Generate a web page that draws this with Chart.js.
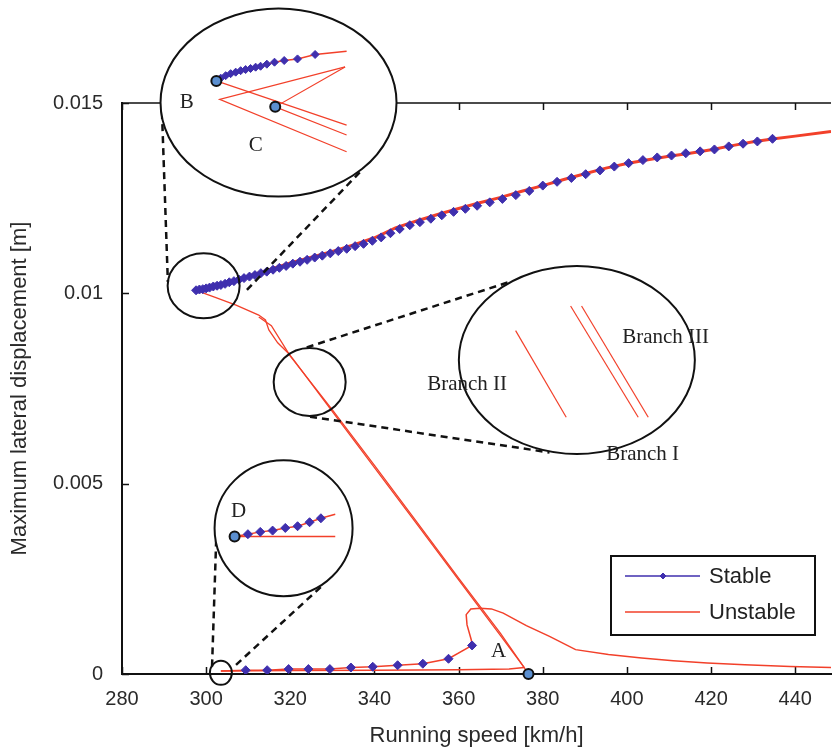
<!DOCTYPE html>
<html>
<head>
<meta charset="utf-8">
<script src="https://cdn.jsdelivr.net/npm/chart.js@4.4.0/dist/chart.umd.min.js"></script>
<style>
  html, body { margin: 0; padding: 0; background: #fff; }
  #wrap { width: 838px; height: 751px; }
</style>
</head>
<body>
<div id="wrap"><canvas id="chart" width="838" height="751"></canvas></div>
<script>
// axis ticks
const xTicks = [280, 300, 320, 340, 360, 380, 400, 420, 440]
const yTicks = [0, 0.005, 0.01, 0.015]

// upper branch (full continuation line, red)
const upperSpeed = [297.6, 300, 305, 310, 315, 320, 325, 330, 335, 340, 345, 350, 355, 360, 365, 370, 375, 380, 385, 390, 395, 400, 405, 410, 415, 420, 425, 430, 435, 440, 448.5]
const upperDisp = [0.01008, 0.01013, 0.01029, 0.01045, 0.01062, 0.0108, 0.01095, 0.0111, 0.01127, 0.01146, 0.01172, 0.0119, 0.01207, 0.01223, 0.01238, 0.01252, 0.01268, 0.01283, 0.01299, 0.01314, 0.01329, 0.01341, 0.01351, 0.0136, 0.01368, 0.01377, 0.01388, 0.01398, 0.01406, 0.01413, 0.01425]

// stable points on the upper branch
const stableUpSpeed = [297.6, 298.4, 299.2, 300.0, 300.8, 301.7, 302.6, 303.5, 304.5, 305.5, 306.6, 307.8, 309.0, 310.3, 311.6, 313.0, 314.4, 315.9, 317.4, 319.0, 320.6, 322.3, 324.0, 325.8, 327.6, 329.5, 331.4, 333.4, 335.4, 337.4, 339.5, 341.6, 343.8, 346.0, 348.4, 350.8, 353.4, 356.0, 358.8, 361.6, 364.4, 367.4, 370.4, 373.6, 376.8, 380.0, 383.4, 386.8, 390.2, 393.6, 397.0, 400.4, 403.8, 407.2, 410.6, 414.0, 417.4, 420.8, 424.2, 427.6, 431.0, 434.6]
const stableUpDisp = [0.01008, 0.0101, 0.01011, 0.01013, 0.01015, 0.01018, 0.0102, 0.01022, 0.01025, 0.01029, 0.01032, 0.01036, 0.0104, 0.01044, 0.01048, 0.01053, 0.01057, 0.01062, 0.01067, 0.01072, 0.01078, 0.01083, 0.01088, 0.01094, 0.01099, 0.01105, 0.01111, 0.01117, 0.01124, 0.0113, 0.01138, 0.01147, 0.01158, 0.01169, 0.01179, 0.01187, 0.01196, 0.01205, 0.01214, 0.01222, 0.0123, 0.01239, 0.01248, 0.01258, 0.01269, 0.01283, 0.01293, 0.01303, 0.01313, 0.01323, 0.01333, 0.01342, 0.0135, 0.01357, 0.01362, 0.01368, 0.01373, 0.01378, 0.01386, 0.01393, 0.01399, 0.01406]

// descending unstable branch (two close lines)
const descSpeed = [297.6, 302, 307.1, 312.5, 314.1, 314.9, 317.0, 319.6, 320.8, 330, 340, 350, 360, 370, 375.6, 376.6]
const descDisp = [0.01008, 0.0099, 0.00969, 0.00943, 0.0093, 0.00904, 0.0087, 0.00842, 0.00825, 0.00689, 0.00542, 0.00395, 0.00247, 0.001, 0.00017, 0.0]
const desc2Speed = [312.5, 315.5, 320, 330, 340, 350, 360, 370, 375.6]
const desc2Disp = [0.00938, 0.00915, 0.00835, 0.00694, 0.00548, 0.004, 0.00252, 0.00106, 0.00017]

// lower branch: stable part, loop and decaying tail
const lowerSpeed = [303.5, 309.4, 314.5, 319.6, 324.3, 329.4, 334.4, 339.6, 345.5, 351.5, 357.6, 363.2, 363.0, 362.0, 361.8, 362.9, 365.1, 367.8, 370.6, 376.1, 381.6, 387.8, 395.6, 403.5, 411, 419.1, 428, 438.8, 448.5]
const lowerDisp = [0.00008, 0.0001, 0.0001, 0.00013, 0.00013, 0.00013, 0.00017, 0.00019, 0.00023, 0.00027, 0.0004, 0.00075, 0.0009, 0.00129, 0.00156, 0.00171, 0.00173, 0.00171, 0.0016, 0.00127, 0.00099, 0.00064, 0.00051, 0.00042, 0.00035, 0.00029, 0.00024, 0.0002, 0.00017]
const stableLowSpeed = [309.4, 314.5, 319.6, 324.3, 329.4, 334.4, 339.6, 345.5, 351.5, 357.6, 363.2]
const stableLowDisp = [0.0001, 0.0001, 0.00013, 0.00013, 0.00013, 0.00017, 0.00019, 0.00023, 0.00027, 0.0004, 0.00075]
const flatSpeed = [303.5, 320, 340, 360, 372, 375.6]
const flatDisp = [0.00008, 0.00009, 0.0001, 0.00011, 0.00013, 0.00017]

// Hopf point A
const hopfSpeed = [376.6]
const hopfDisp = [0]

// zoom circles: centre in data units
const circleSpeed = [317.2, 299.4, 324.6, 388.1, 303.5, 318.4]
const circleDisp = [0.01501, 0.0102, 0.00767, 0.00825, 0.00003, 0.00383]

// dashed connectors: [speed1, disp1, speed2, disp2]
const connectors = [
  [289.5, 0.01476, 290.9, 0.0103],
  [336.5, 0.01318, 309.0, 0.01001],
  [323.9, 0.00858, 372.1, 0.0103],
  [324.7, 0.00676, 381.6, 0.00582],
  [301.4, 0.0002, 302.4, 0.00357],
  [307.1, 0.00024, 327.8, 0.00234]
]

// inset contents, in units of the inset radius
const insetBStable = [[-0.527, -0.231], [-0.49, -0.26], [-0.448, -0.287], [-0.406, -0.308], [-0.363, -0.324], [-0.321, -0.34], [-0.279, -0.352], [-0.237, -0.363], [-0.194, -0.377], [-0.152, -0.387], [-0.099, -0.409], [-0.034, -0.43], [0.048, -0.448], [0.161, -0.465], [0.31, -0.512]]
const insetBTail = [0.577, -0.547]
const insetBCLines = [
  [[-0.527, -0.231], [0.577, 0.239]],
  [[0.564, -0.38], [-0.499, -0.034], [0.577, 0.522]],
  [[0.564, -0.38], [-0.028, 0.045], [0.577, 0.345]]
]
const insetBCPoints = [[-0.527, -0.231], [-0.028, 0.045]]
const insetBranchLines = [
  [[-0.519, -0.312], [-0.09, 0.61]],
  [[-0.053, -0.574], [0.52, 0.61]],
  [[0.04, -0.574], [0.605, 0.61]]
]
const insetDStable = [[-0.517, 0.088], [-0.338, 0.054], [-0.159, 0.035], [0.025, -0.004], [0.203, -0.029], [0.377, -0.088], [0.541, -0.146]]
const insetDTail = [0.749, -0.205]
const insetDFlat = [[-0.71, 0.123], [0.749, 0.123]]
const insetDPoint = [-0.71, 0.123]

const BLUE = "#3f2fae"
const RED = "#f2402a"
const DOT = "#5b8fd0"
const INK = "#222"

const pts = (xs, ys) => xs.map((v, i) => ({ x: v, y: ys[i] }))

const circleStyle = [
  { rx: 118, ry: 94, fill: true },
  { rx: 36, ry: 32.5 },
  { rx: 36, ry: 34 },
  { rx: 118, ry: 94, fill: true },
  { rx: 11, ry: 12 },
  { rx: 69, ry: 68, fill: true }
]

function diamond(ctx, x, y, r) {
  ctx.beginPath()
  ctx.moveTo(x, y - r); ctx.lineTo(x + r, y); ctx.lineTo(x, y + r); ctx.lineTo(x - r, y)
  ctx.closePath()
  ctx.fillStyle = BLUE
  ctx.fill()
  ctx.lineWidth = 1
  ctx.strokeStyle = BLUE
  ctx.stroke()
}

function dot(ctx, x, y) {
  ctx.beginPath()
  ctx.arc(x, y, 5, 0, Math.PI * 2)
  ctx.fillStyle = DOT
  ctx.fill()
  ctx.lineWidth = 2
  ctx.strokeStyle = "#111"
  ctx.stroke()
}

function poly(ctx, list, color, width) {
  ctx.beginPath()
  list.forEach((p, i) => (i ? ctx.lineTo(p[0], p[1]) : ctx.moveTo(p[0], p[1])))
  ctx.strokeStyle = color
  ctx.lineWidth = width
  ctx.stroke()
}

// frame top line and inward tick marks
const frame = {
  id: "frame",
  beforeDatasetsDraw(chart) {
    const { ctx, chartArea: a, scales: { x, y } } = chart
    ctx.save()
    ctx.strokeStyle = "#111"
    ctx.lineWidth = 1.5
    ctx.beginPath()
    ctx.moveTo(a.left, a.top); ctx.lineTo(a.right, a.top)
    xTicks.forEach((v) => {
      const px = Math.round(x.getPixelForValue(v)) + 0.5
      ctx.moveTo(px, a.bottom); ctx.lineTo(px, a.bottom - 7)
      ctx.moveTo(px, a.top); ctx.lineTo(px, a.top + 7)
    })
    yTicks.forEach((v) => {
      const py = Math.round(y.getPixelForValue(v)) + 0.5
      ctx.moveTo(a.left, py); ctx.lineTo(a.left + 7, py)
    })
    ctx.stroke()
    ctx.restore()
  }
}

// zoom circles, connectors, insets, labels and legend
const zoomMarks = {
  id: "zoomMarks",
  afterDatasetsDraw(chart) {
    const { ctx, scales: { x, y } } = chart
    const P = (v, d) => [x.getPixelForValue(v), y.getPixelForValue(d)]
    const circles = circleSpeed.map((v, i) => {
      const c = P(v, circleDisp[i])
      return { cx: c[0], cy: c[1], ...circleStyle[i] }
    })
    const at = (c, p) => [c.cx + p[0] * c.rx, c.cy + p[1] * c.ry]
    ctx.save()

    ctx.setLineDash([7, 5])
    connectors.forEach((c) => poly(ctx, [P(c[0], c[1]), P(c[2], c[3])], "#111", 2.5))
    ctx.setLineDash([])

    circles.forEach((c) => {
      ctx.beginPath()
      ctx.ellipse(c.cx, c.cy, c.rx, c.ry, 0, 0, Math.PI * 2)
      if (c.fill) { ctx.fillStyle = "#fff"; ctx.fill() }
      ctx.strokeStyle = "#111"
      ctx.lineWidth = 2
      ctx.stroke()
    })

    // inset B / C
    const bc = circles[0]
    insetBCLines.forEach((l) => poly(ctx, l.map((p) => at(bc, p)), RED, 1.2))
    poly(ctx, insetBStable.concat([insetBTail]).map((p) => at(bc, p)), RED, 1.5)
    insetBStable.forEach((p) => { const q = at(bc, p); diamond(ctx, q[0], q[1], 4) })
    insetBCPoints.forEach((p) => { const q = at(bc, p); dot(ctx, q[0], q[1]) })

    // inset branches
    const br = circles[3]
    insetBranchLines.forEach((l) => poly(ctx, l.map((p) => at(br, p)), RED, 1.2))

    // inset D
    const dd = circles[5]
    poly(ctx, insetDFlat.map((p) => at(dd, p)), RED, 1.5)
    poly(ctx, [insetDPoint].concat(insetDStable, [insetDTail]).map((p) => at(dd, p)), RED, 1.5)
    insetDStable.forEach((p) => { const q = at(dd, p); diamond(ctx, q[0], q[1], 4.5) })
    const dp = at(dd, insetDPoint)
    dot(ctx, dp[0], dp[1])

    // serif labels
    ctx.fillStyle = INK
    ctx.font = '21px "Liberation Serif", serif'
    ctx.textAlign = "center"
    ctx.textBaseline = "middle"
    const label = (t, p) => ctx.fillText(t, p[0], p[1])
    label("B", at(bc, [-0.778, -0.005]))
    label("C", at(bc, [-0.194, 0.451]))
    label("Branch II", at(br, [-0.93, 0.266]))
    label("Branch III", at(br, [0.752, -0.234]))
    label("Branch I", at(br, [0.557, 1.011]))
    label("D", at(dd, [-0.652, -0.253]))
    label("A", P(369.5, 0.0006))
    ctx.restore()
  },
  afterDraw(chart) {
    const { ctx } = chart
    const ds = chart.data.datasets.filter((d) => d.legend).sort((a, b) => a.legend - b.legend)
    const box = { left: 611, top: 556, w: 204, h: 79 }
    ctx.save()
    ctx.fillStyle = "#fff"
    ctx.fillRect(box.left, box.top, box.w, box.h)
    ctx.strokeStyle = "#111"
    ctx.lineWidth = 2
    ctx.strokeRect(box.left, box.top, box.w, box.h)
    ctx.font = '22px "Liberation Sans", Arial, sans-serif'
    ctx.textBaseline = "middle"
    ds.forEach((d, i) => {
      const yy = box.top + 20 + i * 36
      poly(ctx, [[box.left + 14, yy], [box.left + 89, yy]], d.borderColor, 1.5)
      if (d.showLine === false) diamond(ctx, box.left + 52, yy, 3)
      ctx.fillStyle = INK
      ctx.fillText(d.label, box.left + 98, yy + 1)
    })
    ctx.restore()
  }
}

const redLine = (data, width) => ({
  data, showLine: true, borderColor: RED, borderWidth: width,
  pointRadius: 0, order: 2, tension: 0
})

const blueMarks = (data) => ({
  data, showLine: false, borderColor: BLUE, backgroundColor: BLUE,
  pointStyle: "rectRot", pointRadius: 4.5, pointBorderWidth: 1, order: 0
})

new Chart(document.getElementById("chart"), {
  type: "scatter",
  data: {
    datasets: [
      { ...redLine(pts(upperSpeed, upperDisp), 3), label: "Unstable", legend: 2 },
      redLine(pts(descSpeed, descDisp), 1.3),
      redLine(pts(desc2Speed, desc2Disp), 1.3),
      redLine(pts(lowerSpeed, lowerDisp), 1.5),
      redLine(pts(flatSpeed, flatDisp), 1.5),
      { ...blueMarks(pts(stableUpSpeed, stableUpDisp)), label: "Stable", legend: 1 },
      blueMarks(pts(stableLowSpeed, stableLowDisp)),
      {
        data: pts(hopfSpeed, hopfDisp), showLine: false, clip: false,
        pointStyle: "circle", pointRadius: 5, backgroundColor: DOT,
        borderColor: "#111", pointBorderWidth: 2, order: -1
      }
    ]
  },
  options: {
    responsive: false,
    animation: false,
    layout: { padding: { top: 103, right: 0, left: 0, bottom: 0 } },
    plugins: { legend: { display: false }, tooltip: { enabled: false } },
    scales: {
      x: {
        type: "linear", min: 280, max: 448.5,
        afterFit: (s) => { s.height = 77 },
        afterBuildTicks: (s) => { s.ticks = xTicks.map((v) => ({ value: v })) },
        grid: { display: false, drawTicks: false },
        border: { display: true, color: "#111", width: 2 },
        ticks: { color: "#2a2a2a", padding: 13, font: { family: '"Liberation Sans", Arial, sans-serif', size: 20 } },
        title: {
          display: true, text: "Running speed [km/h]", color: "#2a2a2a",
          padding: { top: 0, bottom: 2 },
          font: { family: '"Liberation Sans", Arial, sans-serif', size: 22 }
        }
      },
      y: {
        type: "linear", min: 0, max: 0.015,
        afterFit: (s) => { s.width = 122 },
        afterBuildTicks: (s) => { s.ticks = yTicks.map((v) => ({ value: v })) },
        grid: { display: false, drawTicks: false },
        border: { display: true, color: "#111", width: 2 },
        ticks: {
          color: "#2a2a2a", padding: 19,
          font: { family: '"Liberation Sans", Arial, sans-serif', size: 20 },
          callback: (v) => (v === 0 ? "0" : String(+v.toFixed(3)))
        },
        title: {
          display: true, text: "Maximum lateral displacement [m]", color: "#2a2a2a",
          padding: { top: 7, bottom: 0 },
          font: { family: '"Liberation Sans", Arial, sans-serif', size: 22 }
        }
      }
    }
  },
  plugins: [frame, zoomMarks]
})
</script>
</body>
</html>
